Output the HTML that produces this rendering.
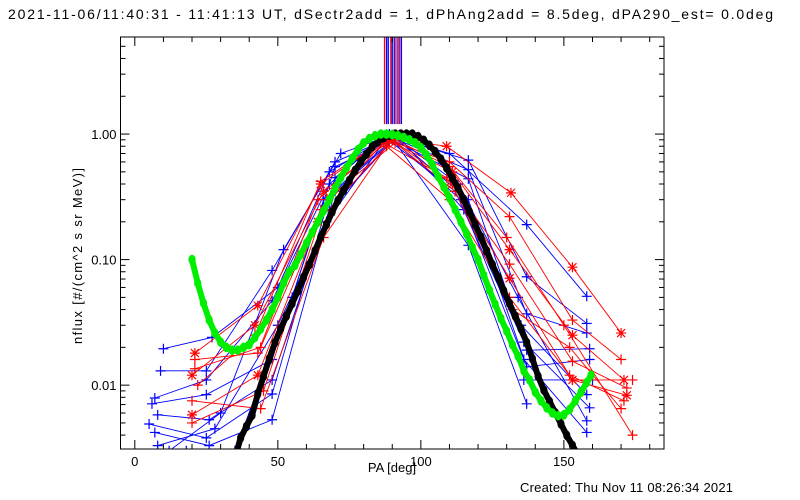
<!DOCTYPE html>
<html><head><meta charset="utf-8"><style>
body{margin:0;background:#fff;}
svg{display:block;font-family:"Liberation Sans",sans-serif;}
</style></head><body>
<svg id="chart" width="800" height="500" viewBox="0 0 800 500" xmlns="http://www.w3.org/2000/svg">
<rect width="800" height="500" fill="#fff"/>
<text x="8" y="19" font-size="14" fill="#000" textLength="765">2021-11-06/11:40:31 - 11:41:13 UT, dSectr2add = 1, dPhAng2add = 8.5deg, dPA290_est=  0.0deg</text>
<g id="plot"></g>
<text x="392" y="472" font-size="13" text-anchor="middle">PA [deg]</text>
<text transform="translate(82,256) rotate(-90)" font-size="13" text-anchor="middle" textLength="176">nflux [#/(cm^2 s sr MeV)]</text>
<text x="520" y="492" font-size="13" textLength="213">Created: Thu Nov 11 08:26:34 2021</text>
</svg>
<script>
const xTicks=[0,50,100,150];
const yTicks=[1,0.1,0.01];
const yTickLabels=["1.00","0.10","0.01"];
const vlinesRed=[87.3,89.5,91.3,92.6];
const vlinesBlue=[88,88.6,90,90.7,92,93.2];
const greenPA=[20,22,24,26,28,30,32,34,36,38,40,42,44,46,48,50,52,54,56,58,60,62,64,66,68,70,72,74,76,78,80,82,84,86,88,90,92,94,96,98,100,102,104,106,108,110,112,114,116,118,120,122,124,126,128,130,132,134,136,138,140,142,144,146,148,150,152,154,156,158,159.5];
const greenVal=[0.10,0.065,0.045,0.033,0.026,0.022,0.020,0.019,0.019,0.020,0.021,0.024,0.028,0.033,0.040,0.050,0.065,0.08,0.09,0.11,0.135,0.165,0.20,0.245,0.30,0.37,0.45,0.54,0.64,0.75,0.85,0.92,0.97,1.0,1.0,0.99,0.97,0.94,0.9,0.85,0.78,0.68,0.57,0.46,0.38,0.31,0.25,0.20,0.16,0.125,0.10,0.075,0.057,0.044,0.034,0.027,0.021,0.017,0.013,0.011,0.0088,0.0075,0.0066,0.006,0.0057,0.0058,0.0064,0.0075,0.0088,0.0105,0.012];
const blackPA=[35,37,39,41,43,45,47,49,51,53,55,57,59,61,63,65,67,69,71,73,75,77,79,81,83,85,87,89,91,93,95,97,99,101,103,105,107,109,111,113,115,117,119,121,123,125,127,129,131,133,135,137,139,141,143,145,147,149,151,153,155,156];
const blackLog=[-2.58,-2.42,-2.33,-2.24,-2.07,-1.93,-1.79,-1.66,-1.55,-1.45,-1.35,-1.25,-1.14,-1.04,-0.93,-0.82,-0.72,-0.62,-0.53,-0.45,-0.37,-0.29,-0.22,-0.16,-0.10,-0.06,-0.03,-0.01,0,0,0,0,-0.02,-0.05,-0.09,-0.14,-0.2,-0.27,-0.35,-0.43,-0.52,-0.62,-0.72,-0.82,-0.93,-1.04,-1.14,-1.25,-1.35,-1.45,-1.55,-1.66,-1.79,-1.93,-2.04,-2.13,-2.22,-2.31,-2.40,-2.48,-2.56,-2.6];
const blueSeries=[
[[10,0.0195],[27,0.024],[50,0.06],[68,0.5],[89,0.97],[110,0.7],[137,0.19],[158,0.051]],
[[9,0.013],[25,0.013],[48,0.082],[70,0.6],[90,0.95],[116.6,0.62],[137,0.073],[158,0.031]],
[[7,0.0079],[25,0.011],[48,0.047],[68,0.4],[88,0.98],[116.6,0.52],[137,0.037],[158,0.026]],
[[6,0.0071],[25,0.0084],[48,0.016],[66,0.3],[90,0.9],[116.6,0.44],[137,0.019],[159,0.0195]],
[[8,0.0058],[26,0.0053],[48,0.011],[68,0.25],[91,0.93],[116.6,0.3],[137,0.014],[159,0.016]],
[[5,0.0049],[25,0.0038],[48,0.0085],[70,0.45],[89,1.0],[116.6,0.13],[137,0.0071]],
[[7,0.0042],[26,0.0033],[48,0.0053],[70,0.35],[92,0.96],[115,0.25],[135,0.03],[158,0.0084]],
[[8,0.0033],[28,0.0045],[50,0.03],[67,0.2],[88,0.92],[112,0.35],[136,0.022],[159,0.0066]],
[[12,0.003],[30,0.006],[52,0.12],[72,0.7],[90,0.99],[113,0.4],[134,0.05],[158,0.0052]],
[[18,0.003],[35,0.003],[55,0.05],[70,0.55],[90,0.9],[114,0.3],[136,0.016],[158,0.0042]],
[[136,0.011],[160,0.011]]
];
const redSeries=[
[[21,0.018],[43,0.043],[65,0.4],[88,0.92],[109,0.8],[131.5,0.34],[153,0.087],[170,0.026]],
[[21,0.016],[43,0.018],[64,0.3],[88,0.9],[110,0.6],[131,0.22],[153,0.033],[170,0.016]],
[[20,0.012],[42,0.03],[66,0.35],[89,0.88],[111,0.5],[131,0.12],[153,0.025],[171,0.011]],
[[21,0.0135],[44,0.02],[65,0.25],[87,0.85],[109,0.45],[131,0.092],[153,0.0155],[172,0.0095]],
[[20,0.0058],[43,0.012],[64,0.2],[90,0.9],[111,0.4],[131,0.071],[153,0.011],[172,0.0083]],
[[20,0.0075],[44,0.0065],[66,0.15],[88,0.8],[110,0.3],[131,0.05],[152,0.012],[171,0.0075]],
[[20,0.005],[45,0.009],[67,0.3],[91,0.85],[112,0.35],[132,0.04],[152,0.02],[170,0.0065]],
[[22,0.01],[42,0.025],[65,0.42],[89,0.95],[110,0.55],[130,0.15],[150,0.03],[174,0.004]],
[[153,0.011],[174,0.011]]
];
const redStar=[0,2,4];

const X0=120.5,X1=664,Y0=37,Y1=449,XMIN=-5,XMAX=185,LMIN=Math.log10(0.0031),LMAX=Math.log10(5.93);
function xs(v){return X0+(v-XMIN)/(XMAX-XMIN)*(X1-X0);}
function ysl(l){return Y0+(LMAX-l)/(LMAX-LMIN)*(Y1-Y0);}
function ys(v){return ysl(Math.log10(v));}
const NS="http://www.w3.org/2000/svg";
const g=document.getElementById('plot');
function mk(t,a,p){const e=document.createElementNS(NS,t);for(const k in a)e.setAttribute(k,a[k]);(p||g).appendChild(e);return e;}
const defs=mk('defs',{});
const cp=mk('clipPath',{id:'clip'},defs);mk('rect',{x:X0,y:Y0,width:X1-X0,height:Y1-Y0},cp);
const data=mk('g',{'clip-path':'url(#clip)'});



vlinesRed.forEach(v=>{const l=mk('line',{x1:xs(v),x2:xs(v),y1:Y0,y2:ys(1.2),stroke:'#f00','stroke-width':1.3},data);

});
vlinesBlue.forEach(v=>{const l=mk('line',{x1:xs(v),x2:xs(v),y1:Y0,y2:ys(1.2),stroke:'#00f','stroke-width':1.3},data);

});

function series(pts,col,star,name){
  const s=mk('g',{},data);
  
  
  mk('polyline',{points:pts.map(p=>xs(p[0])+','+ys(p[1])).join(' '),fill:'none',stroke:col,'stroke-width':0.9},s);
  pts.forEach(p=>{const x=xs(p[0]),y=ys(p[1]);
    let d=`M${x-5},${y}H${x+5}M${x},${y-5}V${y+5}`;
    if(star)d+=`M${x-4},${y-4}L${x+4},${y+4}M${x-4},${y+4}L${x+4},${y-4}`;
    mk('path',{d:d,stroke:col,'stroke-width':1.2,fill:'none'},s);});
}
blueSeries.forEach((s,i)=>series(s,'#0000ff',false,'blue-series-'+(i+1)));
redSeries.forEach((s,i)=>series(s,'#ff0000',redStar.includes(i),'red-series-'+(i+1)));

function dotCurve(px,py,col,name){
  const c=mk('g',{},data);
  
  
  mk('polyline',{points:px.map((x,i)=>x+','+py[i]).join(' '),fill:'none',stroke:col,'stroke-width':6,'stroke-linecap':'round','stroke-linejoin':'round'},c);
  px.forEach((x,i)=>mk('ellipse',{cx:x,cy:py[i],rx:3.6,ry:4.8,fill:col},c));
}
dotCurve(blackPA.map(xs),blackLog.map(ysl),'#000','black-model-curve');
dotCurve(greenPA.map(xs),greenVal.map(ys),'#00ee00','green-fit-curve');

const fr=mk('rect',{x:X0,y:Y0,width:X1-X0,height:Y1-Y0,fill:'none',stroke:'#000','stroke-width':1});


for(let v=0;v<=180;v+=10){const major=v%50===0;const L=major?9:5;
  mk('line',{x1:xs(v),x2:xs(v),y1:Y1,y2:Y1-L,stroke:'#000'});
  mk('line',{x1:xs(v),x2:xs(v),y1:Y0,y2:Y0+L,stroke:'#000'});}
xTicks.forEach(v=>{const t=mk('text',{x:xs(v),y:Y1+17,'font-size':13,'text-anchor':'middle'});t.textContent=v;

});
for(let d=-3;d<=0;d++){for(let m=1;m<=9;m++){const v=m*Math.pow(10,d);const l=Math.log10(v);
  if(l<LMIN||l>LMAX)continue;const L=m===1?9:5;
  mk('line',{x1:X0,x2:X0+L,y1:ysl(l),y2:ysl(l),stroke:'#000'});
  mk('line',{x1:X1,x2:X1-L,y1:ysl(l),y2:ysl(l),stroke:'#000'});}}
yTicks.forEach((v,i)=>{const t=mk('text',{x:X0-4,y:ys(v)+5,'font-size':13,'text-anchor':'end'});t.textContent=yTickLabels[i];

});
</script>
</body></html>
